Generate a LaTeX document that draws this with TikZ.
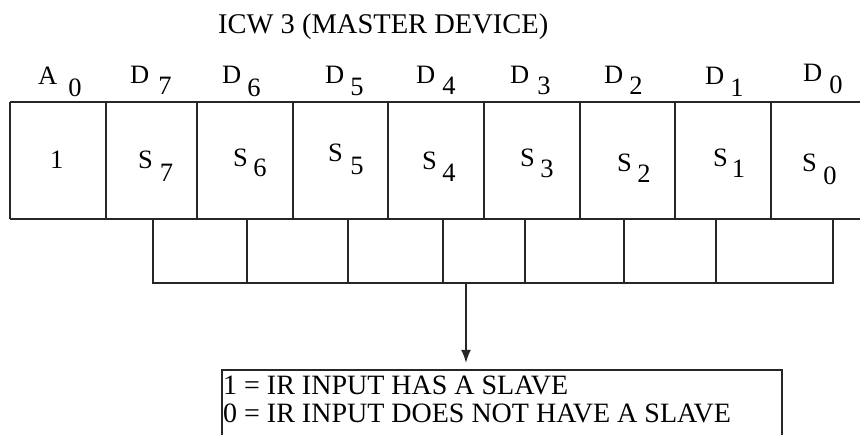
\documentclass[tikz,border=0pt]{standalone}
\usepackage{fontspec}
\setmainfont{Liberation Serif}
\usetikzlibrary{arrows.meta}
\newcommand\mylab[4]{#1\hspace{#3pt}\raisebox{-#4pt}{#2}}
\begin{document}
\begin{tikzpicture}[x=1pt,y=-1pt,
  reg/.style={line width=1.9pt,draw=black!85},
  txt/.style={anchor=base west,inner sep=0pt,font=\fontsize{26.5}{30}\selectfont},
  ttl/.style={anchor=base west,inner sep=0pt,font=\fontsize{28.5}{32}\selectfont},
  leg/.style={anchor=base west,inner sep=0pt,font=\fontsize{28}{32}\selectfont},
  arr/.style={line width=1.9pt,draw=black!85,-{Latex[length=13pt,width=10pt]}}]
\useasboundingbox (0,0) rectangle (860,435);
\clip (0,0) rectangle (860,435);
\fill[white] (0,0) rectangle (860,435);
% title
\node[ttl] (title) at (218,34) {ICW 3 (MASTER DEVICE)};
% bit labels
\node[txt] (lA0) at (38,85) {\mylab{A}{0}{11}{12}};
\node[txt] (lD7) at (130,84) {\mylab{D}{7}{9}{11}};
\node[txt] (lD6) at (222,84) {\mylab{D}{6}{6}{13}};
\node[txt] (lD5) at (325,84) {\mylab{D}{5}{6}{12}};
\node[txt] (lD4) at (416,84) {\mylab{D}{4}{7}{11}};
\node[txt] (lD3) at (510,84) {\mylab{D}{3}{8}{11}};
\node[txt] (lD2) at (604,84) {\mylab{D}{2}{6}{11}};
\node[txt] (lD1) at (705,85) {\mylab{D}{1}{6}{12}};
\node[txt] (lD0) at (803,82) {\mylab{D}{0}{7}{12}};
% upper row of cells
\draw[reg] (10,102) -- (870,102);
\draw[reg] (10,219) -- (870,219);
\foreach \x in {10,106,197,293,388,484,580,675,771}
  \draw[reg] (\x,102) -- (\x,219);
% cell contents
\node[txt] (c1) at (50,169) {1};
\node[txt] (cS7) at (138,169) {\mylab{S}{7}{7}{13}};
\node[txt] (cS6) at (233,167) {\mylab{S}{6}{5.5}{10}};
\node[txt] (cS5) at (328,162) {\mylab{S}{5}{7.5}{13}};
\node[txt] (cS4) at (422,170) {\mylab{S}{4}{5.5}{12}};
\node[txt] (cS3) at (520,167) {\mylab{S}{3}{5.5}{11}};
\node[txt] (cS2) at (617,172) {\mylab{S}{2}{5.5}{11}};
\node[txt] (cS1) at (713,167) {\mylab{S}{1}{4}{11}};
\node[txt] (cS0) at (802,172) {\mylab{S}{0}{6.5}{13}};
% lower row
\draw[reg] (153,219) -- (153,283) -- (833,283) -- (833,219);
\foreach \x in {247,348,443,525,624,716}
  \draw[reg] (\x,219) -- (\x,283);
\coordinate (astart) at (466,283);
% legend
\node[reg,rectangle,anchor=north west,minimum width=560pt,minimum height=90pt,inner sep=0pt] (legend) at (221,369) {};
\node[leg] (leg1) at (223,395) {1 = IR INPUT HAS A SLAVE};
\node[leg] (leg2) at (223,423) {0 = IR INPUT DOES NOT HAVE A SLAVE};
\draw[arr,shorten >=6pt] (astart) -- (astart |- legend.north);
\end{tikzpicture}
\end{document}
